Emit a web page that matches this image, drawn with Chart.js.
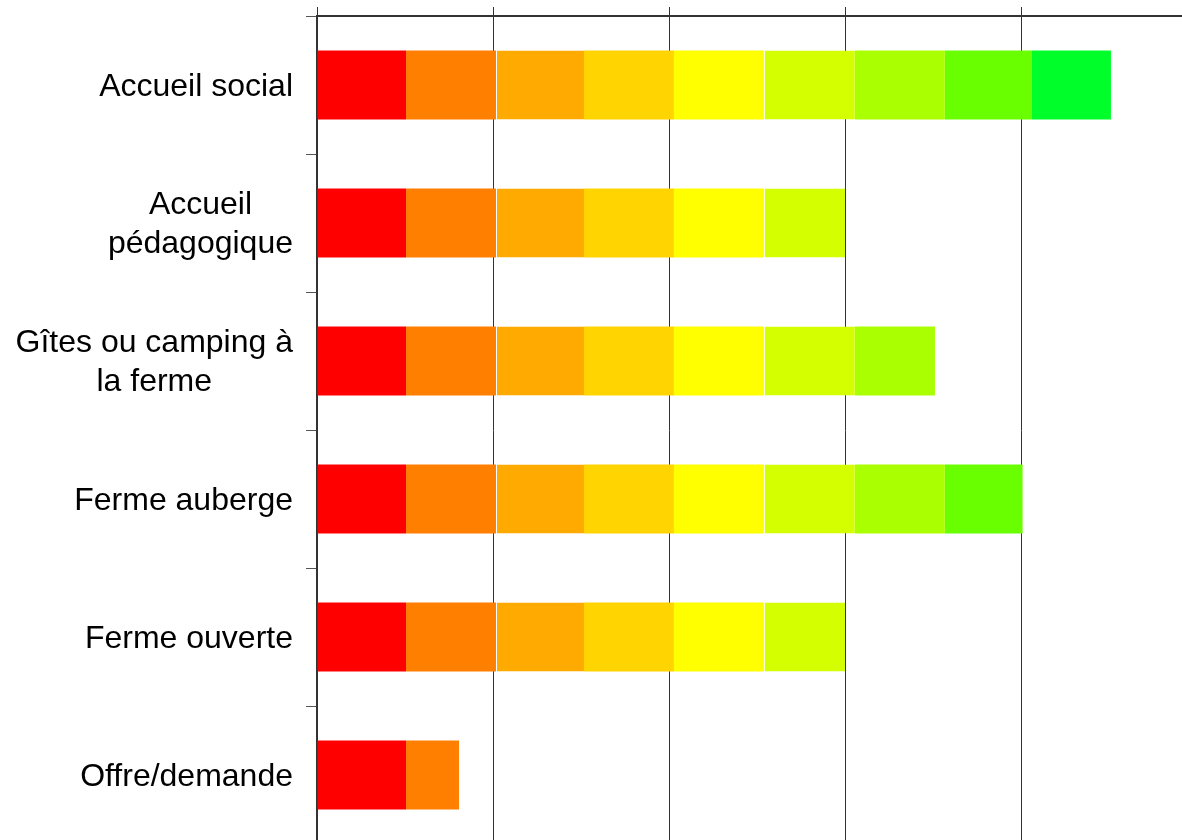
<!DOCTYPE html>
<html>
<head>
<meta charset="utf-8">
<script src="https://cdn.jsdelivr.net/npm/chart.js@4"></script>
<style>
  html, body { margin: 0; padding: 0; background: #fff; overflow: hidden; }
  canvas { display: block; }
</style>
</head>
<body>
<canvas id="chart" width="1200" height="850"></canvas>
<script>
// categories (top to bottom)
const categories = [
    'Accueil social',
    ['Accueil', 'pédagogique'],
    ['Gîtes ou camping à', 'la ferme'],
    'Ferme auberge',
    'Ferme ouverte',
    'Offre/demande',
];

// stacked segments (one grid step = 1)
const level1 = [0.506, 0.506, 0.506, 0.506, 0.506, 0.506];
const level2 = [0.511, 0.511, 0.511, 0.511, 0.511, 0.301];
const level3 = [0.5, 0.5, 0.5, 0.5, 0.5, 0];
const level4 = [0.511, 0.511, 0.511, 0.511, 0.511, 0];
const level5 = [0.511, 0.511, 0.511, 0.511, 0.511, 0];
const level6 = [0.517, 0.461, 0.517, 0.517, 0.461, 0];
const level7 = [0.511, 0, 0.455, 0.511, 0, 0];
const level8 = [0.495, 0, 0, 0.442, 0, 0];
const level9 = [0.449, 0, 0, 0, 0, 0];

const xTicks = [0, 1, 2, 3, 4, 5];

const levels = [level1, level2, level3, level4, level5, level6, level7, level8, level9];
const colors = ['#ff0000', '#ff7f00', '#ffaa00', '#ffd400', '#ffff00', '#d4ff00', '#aaff00', '#6aff00', '#00ff2a'];
// thin white seam on the left of these segments, as in the original
const seams = [0, 0, 1, 0, 0, 1, 0, 0, 0];

const labelFont = '32px "Liberation Sans", Arial, sans-serif';

// y labels: block right-aligned, lines centred on each other
const centeredLabels = {
    id: 'centeredLabels',
    afterDraw(chart) {
        const scale = chart.scales.y;
        const ctx = chart.ctx;
        ctx.save();
        ctx.font = labelFont;
        ctx.fillStyle = '#000';
        ctx.textAlign = 'center';
        ctx.textBaseline = 'middle';
        const right = scale.right - 24;
        const lineHeight = 39;
        categories.forEach((label, i) => {
            const lines = Array.isArray(label) ? label : [label];
            const widest = Math.max(...lines.map((l) => ctx.measureText(l).width));
            const cx = right - widest / 2;
            const y = scale.getPixelForTick(i) + 2;
            lines.forEach((line, j) => {
                ctx.fillText(line, cx, y + (j - (lines.length - 1) / 2) * lineHeight);
            });
        });
        ctx.restore();
    },
};

const data = {
    labels: categories,
    datasets: levels.map((values, i) => ({
        label: 'Niveau ' + (i + 1),
        data: values,
        backgroundColor: colors[i],
        borderColor: '#fff',
        borderWidth: { left: seams[i], right: 0, top: 0, bottom: 0 },
        borderSkipped: false,
        barPercentage: 0.5,
        categoryPercentage: 1,
    })),
};

const config = {
    type: 'bar',
    data: data,
    options: {
        indexAxis: 'y',
        responsive: false,
        animation: false,
        layout: { padding: { top: 0, left: 0, right: 3, bottom: 6 } },
        plugins: {
            legend: { display: false },
            tooltip: { enabled: false },
        },
        scales: {
            x: {
                position: 'top',
                stacked: true,
                min: xTicks[0],
                max: xTicks[xTicks.length - 1],
                afterBuildTicks: (scale) => {
                    scale.ticks = xTicks.map((v) => ({ value: v }));
                },
                afterFit: (scale) => { scale.height = 16; },
                ticks: { display: false },
                grid: {
                    color: '#333',
                    lineWidth: 1,
                    tickLength: 9,
                },
                border: { color: '#333', width: 2 },
            },
            y: {
                stacked: true,
                afterFit: (scale) => { scale.width = 317; },
                ticks: { display: false },
                grid: {
                    offset: true,
                    drawOnChartArea: false,
                    color: '#555',
                    tickLength: 11,
                },
                border: { color: '#333', width: 2 },
            },
        },
    },
    plugins: [centeredLabels],
};

new Chart(document.getElementById('chart'), config);
</script>
</body>
</html>
